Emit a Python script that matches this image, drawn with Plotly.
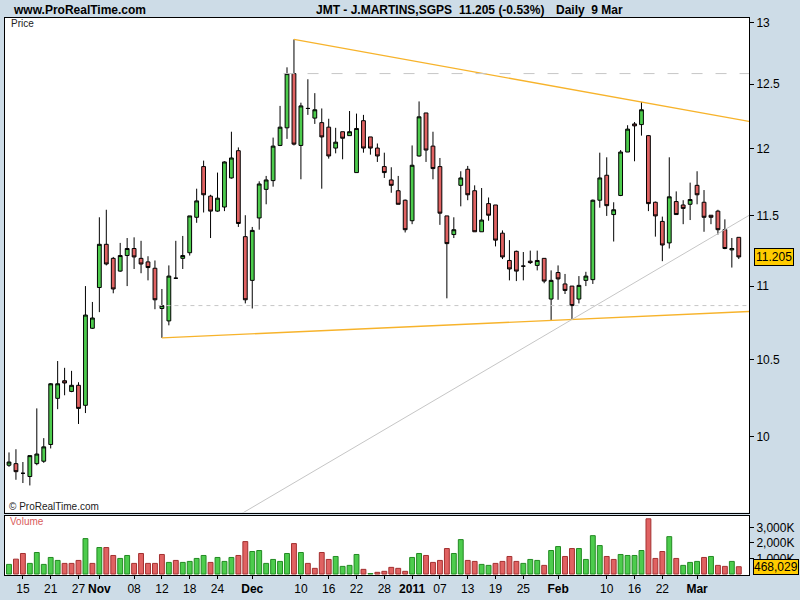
import math
import pandas as pd
import plotly.graph_objects as go

# ---------------- data ----------------
DATES = pd.bdate_range("2010-10-13", "2011-03-09")  # 106 trading days

OPEN = [9.82, 9.83, 9.77, 9.75, 9.83, 9.845, 9.95, 10.245, 10.36, 10.29,
        10.33, 10.20, 10.71, 10.99, 11.295, 11.195, 11.105, 11.215, 11.265, 11.195,
        11.17, 11.125, 10.845, 10.76, 11.055, 11.195, 11.235, 11.49, 11.865, 11.645,
        11.535, 11.565, 11.78, 11.985, 11.35, 11.04, 11.485, 11.695, 11.76, 12.025,
        12.16, 12.585, 12.025, 12.31, 12.235, 12.20, 12.165, 12.005, 12.13, 12.10,
        11.82, 12.215, 12.09, 12.005, 11.865, 11.765, 11.685, 11.615, 11.465, 11.945,
        12.275, 12.02, 11.865, 11.50, 11.365, 11.725, 11.845, 11.685, 11.385, 11.59,
        11.58, 11.375, 11.18, 11.245, 11.14, 11.175, 11.145, 11.195, 10.91, 11.095,
        11.015, 11.0, 10.91, 11.04, 11.045, 11.615, 11.80, 11.51, 11.65, 11.975,
        12.19, 12.185, 12.10, 11.60, 11.46, 11.305, 11.605, 11.58, 11.585, 11.725,
        11.60, 11.505, 11.535, 11.40, 11.255, 11.345]
HIGH = [9.90, 9.92, 9.84, 9.88, 10.18, 9.99, 10.345, 10.49, 10.445, 10.425,
        10.35, 11.00, 10.89, 11.49, 11.545, 11.205, 11.305, 11.34, 11.345, 11.32,
        11.21, 11.18, 10.98, 11.145, 11.32, 11.355, 11.50, 11.70, 11.91, 11.655,
        11.82, 11.905, 12.13, 12.01, 11.505, 11.42, 11.755, 11.795, 12.085, 12.33,
        12.635, 12.86, 12.355, 12.54, 12.43, 12.31, 12.23, 12.16, 12.13, 12.29,
        12.27, 12.26, 12.09, 12.04, 11.97, 11.86, 11.795, 11.62, 12.025, 12.365,
        12.275, 12.13, 11.93, 11.50, 11.49, 11.83, 11.87, 11.725, 11.705, 11.635,
        11.58, 11.395, 11.325, 11.25, 11.24, 11.25, 11.25, 11.195, 11.11, 11.145,
        11.085, 11.0, 11.07, 11.10, 11.62, 11.97, 11.935, 11.60, 11.99, 12.18,
        12.205, 12.36, 12.105, 11.605, 11.495, 11.935, 11.68, 11.615, 11.745, 11.83,
        11.69, 11.505, 11.545, 11.475, 11.34, 11.345]
LOW = [9.81, 9.73, 9.71, 9.695, 9.82, 9.835, 9.925, 10.175, 10.265, 10.285,
       10.08, 10.15, 10.705, 10.82, 11.145, 10.95, 11.10, 11.00, 11.12, 11.09,
       11.04, 10.84, 10.645, 10.73, 11.05, 11.12, 11.215, 11.45, 11.525, 11.34,
       11.53, 11.535, 11.775, 11.42, 10.88, 10.845, 11.40, 11.585, 11.715, 12.02,
       12.075, 12.025, 11.77, 12.26, 12.19, 11.70, 11.925, 11.965, 11.92, 12.10,
       11.82, 11.97, 11.955, 11.90, 11.78, 11.67, 11.585, 11.38, 11.44, 11.94,
       11.90, 11.77, 11.435, 10.915, 11.34, 11.57, 11.615, 11.385, 11.385, 11.465,
       11.28, 11.19, 11.04, 11.035, 11.04, 11.155, 11.11, 11.02, 10.765, 10.905,
       10.945, 10.77, 10.88, 11.0, 11.015, 11.56, 11.50, 11.315, 11.645, 11.975,
       11.905, 12.10, 11.535, 11.35, 11.175, 11.265, 11.51, 11.44, 11.47, 11.585,
       11.385, 11.44, 11.365, 11.26, 11.13, 11.19]
CLOSE = [9.84, 9.78, 9.77, 9.88, 9.89, 9.935, 10.34, 10.34, 10.345, 10.33,
         10.18, 10.80, 10.78, 11.295, 11.155, 10.98, 11.215, 11.265, 11.205, 11.155,
         11.13, 10.905, 10.865, 11.07, 11.055, 11.215, 11.50, 11.61, 11.655, 11.535,
         11.63, 11.90, 11.93, 11.445, 10.905, 11.395, 11.735, 11.765, 12.02, 12.165,
         12.585, 12.035, 12.33, 12.31, 12.30, 12.09, 11.945, 12.05, 12.08, 12.13,
         12.155, 12.005, 12.005, 11.945, 11.82, 11.725, 11.585, 11.40, 11.875, 12.245,
         11.99, 11.85, 11.52, 11.30, 11.40, 11.78, 11.655, 11.385, 11.47, 11.505,
         11.325, 11.205, 11.12, 11.105, 11.14, 11.165, 11.18, 11.035, 11.04, 11.05,
         10.97, 10.865, 11.005, 11.07, 11.615, 11.78, 11.575, 11.545, 11.975, 12.15,
         12.175, 12.30, 11.59, 11.50, 11.29, 11.64, 11.51, 11.555, 11.62, 11.655,
         11.49, 11.49, 11.40, 11.265, 11.265, 11.205]
VOLUME = [618000, 955000, 1318000, 682000, 1382000, 618000, 1064000, 873000, 682000, 682000,
          873000, 2274000, 682000, 1701000, 1701000, 1191000, 1000000, 1191000, 682000, 1318000,
          682000, 682000, 1255000, 745000, 873000, 745000, 809000, 1000000, 1191000, 745000,
          1064000, 809000, 1064000, 1191000, 2083000, 1446000, 1510000, 682000, 936000, 809000,
          1318000, 1955000, 1382000, 682000, 363000, 1382000, 936000, 1127000, 490000, 554000,
          1255000, 299000, 30000, 108000, 172000, 427000, 363000, 172000, 1064000, 1318000,
          1191000, 745000, 873000, 1637000, 1318000, 2210000, 873000, 809000, 618000, 554000,
          682000, 809000, 1127000, 809000, 682000, 936000, 873000, 554000, 1510000, 1764000,
          1127000, 1637000, 1637000, 936000, 2465000, 1828000, 1127000, 936000, 1255000, 1191000,
          1191000, 1510000, 3548000, 1000000, 1446000, 2401000, 1000000, 554000, 745000, 809000,
          1064000, 1127000, 554000, 490000, 809000, 468029]
# volume bar colour: G = up, R = down
VOL_DIR = ("GRRGGGGGRR" "RGRGRRGGRR" "RRRGRGGGGR" "GGGRRGGGGG" "GRGRRRRGGG"
           "GRGRRRRRGG" "RRRRGGRRGG" "RRRRGGGRGG" "RRGGGGRRGG" "GGRRRGRGGG" "RGRRGR")

TICK_DATES = ["2010-10-15", "2010-10-21", "2010-10-27", "2010-11-01", "2010-11-08",
              "2010-11-12", "2010-11-18", "2010-11-24", "2010-12-01", "2010-12-10",
              "2010-12-16", "2010-12-22", "2010-12-28", "2011-01-03", "2011-01-07",
              "2011-01-13", "2011-01-19", "2011-01-25", "2011-02-01", "2011-02-10",
              "2011-02-16", "2011-02-22", "2011-03-01"]
TICK_TEXT = ["15", "21", "27", "<b>Nov</b>", "08", "12", "18", "24", "<b>Dec</b>", "10",
             "16", "22", "28", "<b>2011</b>", "07", "13", "19", "25", "<b>Feb</b>", "10",
             "16", "22", "<b>Mar</b>"]

PRICE_TICKS = [10, 10.5, 11, 11.5, 12, 12.5, 13]
VOL_TICKS = [1000000, 2000000, 3000000]
VOL_TICK_TEXT = ["1,000K", "2,000K", "3,000K"]

# trend lines: (date1, price1, date2, price2)
RESISTANCE = ("2010-12-09", 12.86, "2011-02-17", 12.36)
SUPPORT = ("2010-11-12", 10.645, "2011-02-03", 10.77)
GREY_TREND = ("2011-02-03", 10.77, "2011-03-09", 11.46)
# horizontal dashed levels: (start date, price)
LEVEL_HIGH = ("2010-12-08", 12.585)
LEVEL_LOW = ("2010-11-12", 10.865)

# ---------------- styling ----------------
BG = "#cddce7"
GREEN = "#4dcc4d"
RED = "#e06262"
GREEN_EDGE = "#228a22"
RED_EDGE = "#a33030"
ORANGE = "#f7b32b"
GREY = "#c6c6c6"
FONT = "Liberation Sans, Arial, sans-serif"

N = len(DATES)
X = list(range(N))
DATE_INDEX = {d: i for i, d in enumerate(DATES)}
X_MIN, X_MAX = -0.575, 106.47
Y_LOG_RANGE = [math.log10(9.53), math.log10(13.036)]
VOL_RANGE = [-64000, 3758000]


def idx(d):
    return DATE_INDEX[pd.Timestamp(d)]


def line_pts(spec, x_from, x_to):
    d1, p1, d2, p2 = spec
    i1, i2 = idx(d1), idx(d2)
    s = (math.log10(p2) - math.log10(p1)) / (i2 - i1)
    xs = [x_from, x_to]
    ys = [10 ** (math.log10(p1) + s * (x - i1)) for x in xs]
    return xs, ys


fig = go.Figure()

fig.add_trace(go.Candlestick(
    x=X, open=OPEN, high=HIGH, low=LOW, close=CLOSE,
    xaxis="x", yaxis="y",
    increasing=dict(fillcolor=GREEN, line=dict(color="black", width=1)),
    decreasing=dict(fillcolor=RED, line=dict(color="black", width=1)),
    whiskerwidth=0, hoverinfo="skip", showlegend=False,
))

# trend lines
for spec, start in ((RESISTANCE, idx(RESISTANCE[0])), (SUPPORT, idx(SUPPORT[0]))):
    xs, ys = line_pts(spec, start, X_MAX)
    fig.add_trace(go.Scatter(x=xs, y=ys, mode="lines", line=dict(color=ORANGE, width=1.3),
                             hoverinfo="skip", showlegend=False, xaxis="x", yaxis="y"))
xs, ys = line_pts(GREY_TREND, X_MIN, X_MAX)
fig.add_trace(go.Scatter(x=xs, y=ys, mode="lines", line=dict(color=GREY, width=1),
                         hoverinfo="skip", showlegend=False, xaxis="x", yaxis="y"))
for (d, p), dash in ((LEVEL_HIGH, "11px,13px"), (LEVEL_LOW, "4px,4px")):
    fig.add_trace(go.Scatter(x=[idx(d) - 0.5, X_MAX], y=[p, p], mode="lines",
                             line=dict(color=GREY, width=1, dash=dash),
                             hoverinfo="skip", showlegend=False, xaxis="x", yaxis="y"))

# volume
fig.add_trace(go.Bar(
    x=X, y=VOLUME, xaxis="x2", yaxis="y2", width=0.7,
    marker=dict(color=[GREEN if c == "G" else RED for c in VOL_DIR],
                line=dict(color=[GREEN_EDGE if c == "G" else RED_EDGE for c in VOL_DIR], width=1)),
    hoverinfo="skip", showlegend=False,
))

# ---------------- layout ----------------
TOP, PRICE_BOT, VOL_TOP, BOT = 18, 517, 520, 580
LEFT, RIGHT = 4, 749
H_PLOT = BOT - TOP
W_PLOT = RIGHT - LEFT


def py(px):
    return (BOT - px) / H_PLOT


def pxx(px):
    return (px - LEFT) / W_PLOT


axis_common = dict(showline=True, mirror=True, linecolor="black", linewidth=1,
                   showgrid=False, zeroline=False)

fig.update_layout(
    width=800, height=600,
    margin=dict(l=LEFT, r=800 - RIGHT, t=TOP, b=600 - BOT, pad=0),
    paper_bgcolor=BG, plot_bgcolor="white",
    font=dict(family=FONT, size=12, color="black"),
    boxgap=0.22,
    xaxis=dict(domain=[0, 1], anchor="y", range=[X_MIN, X_MAX], showticklabels=False,
               ticks="", rangeslider=dict(visible=False), **axis_common),
    yaxis=dict(domain=[py(PRICE_BOT), 1], anchor="x", type="log", range=Y_LOG_RANGE,
               side="right", tickvals=PRICE_TICKS, ticktext=[f"{v:g}" for v in PRICE_TICKS],
               ticks="outside", ticklen=4, tickcolor="black",
               tickfont=dict(size=12, family=FONT), **axis_common),
    xaxis2=dict(domain=[0, 1], anchor="y2", range=[X_MIN, X_MAX],
                tickvals=[idx(d) for d in TICK_DATES], ticktext=TICK_TEXT,
                ticks="outside", ticklen=3, tickcolor="black",
                tickfont=dict(size=12, family=FONT), **axis_common),
    yaxis2=dict(domain=[0, py(VOL_TOP)], anchor="x2", range=VOL_RANGE, side="right",
                tickvals=VOL_TICKS, ticktext=VOL_TICK_TEXT, ticks="outside", ticklen=4,
                tickcolor="black", tickfont=dict(size=12, family=FONT), **axis_common),
)

pct = (CLOSE[-1] / CLOSE[-2] - 1) * 100
last_date = DATES[-1]
ann = [
    dict(text="<b>www.ProRealTime.com</b>", x=pxx(10), y=py(9.5), xanchor="left", yanchor="middle",
         font=dict(size=12)),
    dict(text="<b>JMT - J.MARTINS,SGPS</b>", x=pxx(313), y=py(9.5), xanchor="left", yanchor="middle",
         font=dict(size=12)),
    dict(text=f"<b>{CLOSE[-1]:.3f} ({pct:.2f}%)</b>", x=pxx(457), y=py(9.5), xanchor="left",
         yanchor="middle", font=dict(size=12)),
    dict(text=f"<b>Daily  {last_date.day} {last_date.strftime('%b')}</b>", x=pxx(554), y=py(9.5),
         xanchor="left", yanchor="middle", font=dict(size=12)),
    dict(text="Price", x=pxx(8), y=py(24), xanchor="left", yanchor="middle",
         font=dict(size=10, color="#222222")),
    dict(text="© ProRealTime.com", x=pxx(6), y=py(511), xanchor="left", yanchor="middle",
         font=dict(size=10, color="#222222")),
    dict(text="Volume", x=pxx(7), y=py(526.5), xanchor="left", yanchor="middle",
         font=dict(size=10, color="#d95c5c")),
    dict(text=f"{CLOSE[-1]:.3f}", xref="paper", yref="y", x=pxx(754), y=math.log10(CLOSE[-1]),
         xanchor="left", yanchor="middle", bgcolor="#ffcc00", bordercolor="black", borderwidth=1,
         borderpad=1, font=dict(size=12), showarrow=False),
    dict(text=f"{VOLUME[-1]:,}", xref="paper", yref="y2", x=pxx(753), y=VOLUME[-1], yshift=0,
         xanchor="left", yanchor="middle", bgcolor="#ffcc00", bordercolor="black", borderwidth=1,
         borderpad=0, font=dict(size=12), showarrow=False),
]
for a in ann:
    a.setdefault("xref", "paper")
    a.setdefault("yref", "paper")
    a.setdefault("showarrow", False)
fig.update_layout(annotations=ann)

fig.write_html("out.html", config={"displayModeBar": False},
               post_script="document.body.style.margin='0';document.body.style.padding='0';")
